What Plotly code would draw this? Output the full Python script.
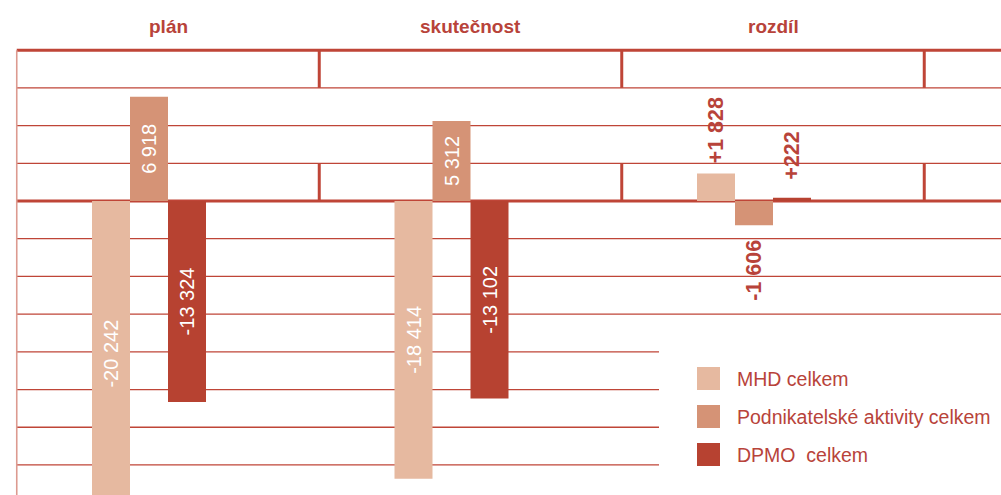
import plotly.graph_objects as go

# ---- data ----
categories = ["plán", "skutečnost", "rozdíl"]
series_names = ["MHD celkem", "Podnikatelské aktivity celkem", "DPMO  celkem"]
mhd_celkem = [-20242, -18414, 1828]
podnikatelske_aktivity = [6918, 5312, -1606]
dpmo_celkem = [-13324, -13102, 222]
series_values = [mhd_celkem, podnikatelske_aktivity, dpmo_celkem]
diff_category = "rozdíl"

# ---- style ----
colors = ["#e6b9a0", "#d59376", "#b74231"]
RED = "#b8433a"
LINE = "#bf4537"
LINE_LIGHT = "#dc9a90"
FONT = "Liberation Sans, Arial, sans-serif"

W, H = 1001, 495
ZERO_PX = 201
UNITS_PER_PX = 66.3
GROUP_PX = 302.5
FIRST_CENTER_PX = 149
BAR_PX = 38
STEP = 2500

y_top = ZERO_PX * UNITS_PER_PX
y_bot = -(H - ZERO_PX) * UNITS_PER_PX
x_left = -FIRST_CENTER_PX / GROUP_PX
x_right = (W - FIRST_CENTER_PX) / GROUP_PX
bw = BAR_PX / GROUP_PX


def fmt(v, sign=False):
    s = f"{abs(v):,}".replace(",", " ")
    if v < 0:
        return "-" + s
    return ("+" if sign else "") + s


fig = go.Figure()
for name, vals, col in zip(series_names, series_values, colors):
    texts = [fmt(v) if c != diff_category else "" for c, v in zip(categories, vals)]
    fig.add_trace(go.Bar(
        x=categories, y=vals, name=name, marker=dict(color=col, line=dict(width=0)),
        text=texts, textposition="inside", textangle=-90, insidetextanchor="middle",
        insidetextfont=dict(color="white", size=20, family=FONT),
        hoverinfo="skip",
    ))

annotations = []
# difference labels (outside bars)
pads = [8, 13, 16]
di = categories.index(diff_category)
for i, vals in enumerate(series_values):
    v = vals[di]
    pos = v > 0
    annotations.append(dict(
        x=di + (i - 1) * bw, y=v, xref="x", yref="y", showarrow=False,
        text=fmt(v, sign=True), textangle=-90,
        yanchor="bottom" if pos else "top", xanchor="center",
        yshift=pads[i] if pos else -pads[i],
        font=dict(family=FONT, size=21.5, color=RED, weight="bold"),
    ))

# section headers
for idx, c in enumerate(categories):
    annotations.append(dict(
        x=idx + bw / 2, y=1 - 26 / H, xref="x", yref="paper", showarrow=False,
        text=c, xanchor="center", yanchor="middle",
        font=dict(family=FONT, size=19, color=RED, weight="bold"),
    ))

shapes = []
x_line_left = bw / 2 - 0.5
# horizontal grid lines
for k in range(4, -8, -1):
    thick = k in (4, 0)
    if k >= -3:
        shapes.append(dict(type="line", xref="x", yref="y", x0=x_line_left, x1=x_right,
                           y0=k * STEP, y1=k * STEP, layer="below",
                           line=dict(color=LINE, width=3 if thick else 1.3)))
    else:
        shapes.append(dict(type="line", xref="paper", yref="y",
                           x0=(FIRST_CENTER_PX + x_line_left * GROUP_PX) / W, x1=659 / W,
                           y0=k * STEP, y1=k * STEP, layer="below",
                           line=dict(color=LINE, width=1.3)))
# left vertical line
shapes.append(dict(type="line", xref="x", yref="y", x0=x_line_left, x1=x_line_left,
                   y0=4 * STEP, y1=y_bot, layer="below",
                   line=dict(color=LINE_LIGHT, width=1.6)))
# section dividers
for idx in range(len(categories)):
    xd = idx + bw / 2 + 0.5
    for (a, b) in ((3, 4), (0, 1)):
        shapes.append(dict(type="line", xref="x", yref="y", x0=xd, x1=xd,
                           y0=a * STEP, y1=b * STEP, layer="below",
                           line=dict(color=LINE, width=3)))

# legend (manual)
legend_rows_px = [378.5, 416.5, 454.5]
for name, col, cy in zip(series_names, colors, legend_rows_px):
    shapes.append(dict(type="rect", xref="paper", yref="paper",
                       x0=697 / W, x1=720 / W,
                       y0=1 - (cy + 11.5) / H, y1=1 - (cy - 11.5) / H,
                       fillcolor=col, line=dict(width=0)))
    annotations.append(dict(
        x=735 / W, y=1 - cy / H, xref="paper", yref="paper", showarrow=False,
        text=name.replace("  ", "&nbsp; "), xanchor="left", yanchor="middle",
        font=dict(family=FONT, size=19.5, color=RED),
    ))

fig.update_layout(
    width=W, height=H, margin=dict(l=0, r=0, t=0, b=0, pad=0),
    paper_bgcolor="white", plot_bgcolor="white", showlegend=False,
    barmode="group", bargap=1 - 3 * bw, bargroupgap=0,
    xaxis=dict(type="category", range=[x_left, x_right], showgrid=False, zeroline=False,
               showticklabels=False, showline=False, ticks="", fixedrange=True),
    yaxis=dict(range=[y_bot, y_top], showgrid=False, zeroline=False,
               showticklabels=False, showline=False, ticks="", fixedrange=True),
    shapes=shapes, annotations=annotations,
)

fig.write_html(
    "out.html",
    config={"displayModeBar": False},
    post_script="document.body.style.margin='0';document.body.style.overflow='hidden';",
)
